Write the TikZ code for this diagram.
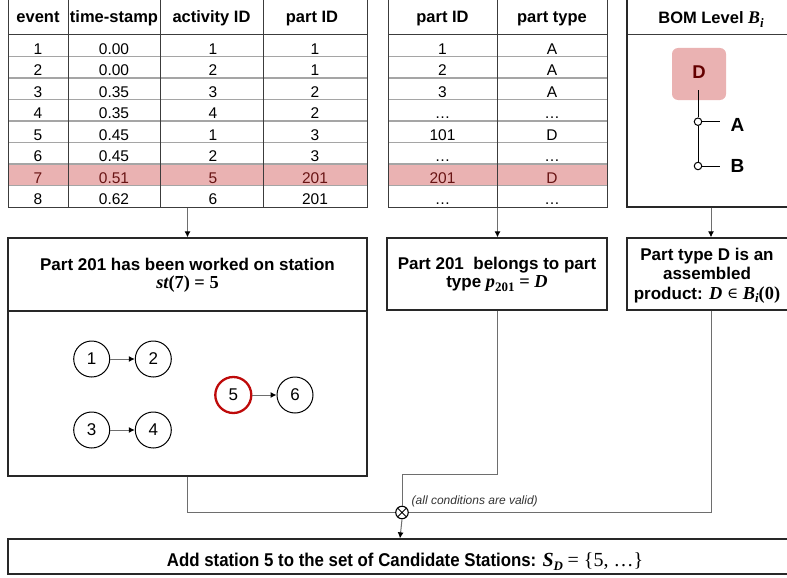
\documentclass[tikz,border=0pt]{standalone}
\usepackage[no-math]{fontspec}
\setmainfont{Liberation Sans}
\newfontfamily\narrowsans[FakeStretch=0.91]{Liberation Sans}
\newfontfamily\mser[Scale=1.08]{Liberation Serif}
\newfontfamily\msym{DejaVu Serif}
\usetikzlibrary{arrows.meta}

\newcommand\setfs[1]{\fontsize{#1}{#1}\selectfont}
% formula pieces set in a bold serif
\newcommand\mvar[1]{{\mser\bfseries\itshape #1}}
\newcommand\mup[1]{{\mser\bfseries #1}}
\newcommand\mreg[1]{{\mser\mdseries #1}}
\newcommand\msub[1]{\raisebox{-0.22em}{\fontsize{12}{12}\selectfont #1}}
\newcommand\mel{{\msym\mdseries\fontsize{15}{15}\selectfont\raisebox{0.05em}{∈}}}

\definecolor{hlfill}{RGB}{234,178,178}
\definecolor{hltext}{RGB}{105,20,20}
\definecolor{dred}{RGB}{100,0,0}
\definecolor{nodered}{RGB}{190,10,10}
\definecolor{gridc}{RGB}{60,60,60}
\definecolor{rowc}{RGB}{165,165,165}
\definecolor{boxc}{RGB}{40,40,40}
\definecolor{connc}{RGB}{110,110,110}

\begin{document}
\begin{tikzpicture}[x=1pt,y=-1pt,
  hdr/.style={font=\setfs{16.5}\bfseries, inner sep=0pt, anchor=base},
  cell/.style={font=\setfs{15.5}, inner sep=0pt, anchor=base},
  frame/.style={draw=gridc, line width=1pt, inner sep=0pt},
  gridline/.style={draw=gridc, line width=1pt},
  rowline/.style={draw=rowc, line width=1.2pt},
  box/.style={draw=boxc, line width=1.3pt, inner sep=0pt},
  btext/.style={font=\fontsize{17}{18}\selectfont\bfseries, align=center, inner sep=0pt},
  conn/.style={draw=connc, line width=1pt},
  tip/.style={-{Latex[length=6pt,width=6pt,color=black]}},
  gnode/.style={circle, draw=black, line width=1pt, minimum size=36pt, inner sep=0pt, font=\setfs{17}},
  garrow/.style={draw=connc, line width=1pt, -{Latex[length=6pt,width=6pt,color=black]}},
  joint/.style={circle, draw=black, line width=1pt, fill=white, minimum size=7.5pt, inner sep=0pt},
]
\useasboundingbox (0,0) rectangle (787,578);

% ---------- highlighted rows ----------
\fill[hlfill] (8,164) rectangle (367,185.5);
\fill[hlfill] (388,164) rectangle (607,185.5);

% ---------- table grid lines ----------
\foreach \i in {1,...,7}{
  \draw[rowline] (8,{35+21.5*\i}) -- (367,{35+21.5*\i});
  \draw[rowline] (388,{35+21.5*\i}) -- (607,{35+21.5*\i});
}
\draw[gridline] (8,35) -- (367,35);
\draw[gridline] (388,35) -- (607,35);
\draw[gridline] (627,35) -- (795,35);
\foreach \x in {68,160,263}{\draw[gridline] (\x,-2) -- (\x,207);}
\draw[gridline] (497,-2) -- (497,207);

% ---------- table outlines ----------
\node[frame, minimum width=359pt, minimum height=209pt] (tab1) at (187.5,102.5) {};
\node[frame, minimum width=219pt, minimum height=209pt] (tab2) at (497.5,102.5) {};
\node[frame, line width=1.3pt, draw=boxc, minimum width=168pt, minimum height=209pt] (bom) at (711,102.5) {};

% ---------- table 1: event log ----------
\node[hdr] (h11) at (38,22.7) {event};
\node[hdr] (h12) at (114,22.7) {time-stamp};
\node[hdr] (h13) at (211.5,22.7) {activity ID};
\node[hdr] (h14) at (312,22.7) {part ID};
\foreach \ev/\ts/\ac/\pid [count=\r] in {1/0.00/1/1, 2/0.00/2/1, 3/0.35/3/2, 4/0.35/4/2,
    5/0.45/1/3, 6/0.45/2/3, 7/0.51/5/201, 8/0.62/6/201}{
  \ifnum\r=7 \def\tc{hltext}\else\def\tc{black}\fi
  \pgfmathsetmacro\yb{54.3+21.5*(\r-1)}
  \node[cell, text=\tc] (t1-\r-1) at (38,\yb) {\ev};
  \node[cell, text=\tc] (t1-\r-2) at (114,\yb) {\ts};
  \node[cell, text=\tc] (t1-\r-3) at (213,\yb) {\ac};
  \node[cell, text=\tc] (t1-\r-4) at (315,\yb) {\pid};
}

% ---------- table 2: part types ----------
\node[hdr] (h21) at (442.5,22.7) {part ID};
\node[hdr] (h22) at (552,22.7) {part type};
\foreach \pid/\pt [count=\r] in {1/A, 2/A, 3/A, \dots/\dots, 101/D, \dots/\dots, 201/D, \dots/\dots}{
  \ifnum\r=7 \def\tc{hltext}\else\def\tc{black}\fi
  \pgfmathsetmacro\yb{54.3+21.5*(\r-1)}
  \node[cell, text=\tc] (t2-\r-1) at (442.5,\yb) {\pid};
  \node[cell, text=\tc] (t2-\r-2) at (552,\yb) {\pt};
}

% ---------- BOM level ----------
\node[hdr] (bomh) at (711,23.5) {BOM Level \mvar{B}\msub{\mvar{i}}};
\node[fill=hlfill, rounded corners=6pt, minimum width=54pt, minimum height=52pt, inner sep=0pt] (dbox) at (699,74) {};
\node[font=\setfs{18.5}\bfseries, text=dred, inner sep=0pt, anchor=base] (dlbl) at (699,78.3) {D};
\coordinate (dstem) at (698,90);
\node[joint] (ca) at (698,121.7) {};
\node[joint] (cb) at (698,166) {};
\draw[line width=1pt] (dstem) -- (ca.north) (ca.south) -- (cb.north);
\coordinate (aend) at (720,121.7);
\coordinate (bend) at (720,166);
\draw[line width=1pt] (ca.east) -- (aend) (cb.east) -- (bend);
\node[font=\setfs{19}\bfseries, inner sep=0pt, anchor=base] (la) at (737.5,131) {A};
\node[font=\setfs{19}\bfseries, inner sep=0pt, anchor=base] (lb) at (737.5,172) {B};

% ---------- condition boxes ----------
\node[box, minimum width=359pt, minimum height=238pt] (box1) at (187.5,357) {};
\draw[box] (8,311) -- (367,311);
\node[btext] (box1t) at (187.5,275) {Part 201 has been worked on station\\\mvar{st}\mup{(7) = 5}};

\node[box, minimum width=220pt, minimum height=72pt] (box2) at (497,274) {};
\node[btext] (box2t) at (497,274.5) {Part 201\ \ belongs to part\\type \mvar{p}\msub{\mup{201}} \mup{=} \mvar{D}};

\node[box, minimum width=168pt, minimum height=72pt] (box3) at (711,274) {};
\node[btext, font=\fontsize{17}{19.5}\selectfont\bfseries] (box3t) at (707,275.5) {Part type D is an\\assembled\\product: \mvar{D} \mel\ \mvar{B}\msub{\mvar{i}}\mup{(0)}};

% ---------- stations graph ----------
\node[gnode] (n1) at (91.7,359) {1};
\node[gnode] (n2) at (153.3,359) {2};
\node[gnode] (n3) at (91.7,430) {3};
\node[gnode] (n4) at (153.3,430) {4};
\node[gnode, draw=nodered, line width=2.3pt] (n5) at (233.3,395) {5};
\node[gnode] (n6) at (295,395) {6};
\draw[garrow] (n1) -- (n2);
\draw[garrow] (n3) -- (n4);
\draw[garrow] (n5) -- (n6);

% ---------- flow arrows ----------
\draw[conn, tip] (tab1.south) -- (box1.north);
\draw[conn, tip] (tab2.south) -- (tab2.south |- box2.north);
\draw[conn, tip] (bom.south) -- (box3.north);

% ---------- conjunction ----------
\node[circle, draw=black, line width=1.1pt, minimum size=12.5pt, inner sep=0pt,
  path picture={\draw[line width=1pt] (path picture bounding box.north west) -- (path picture bounding box.south east)
    (path picture bounding box.north east) -- (path picture bounding box.south west);}] (and) at (402,512.5) {};
\draw[conn] (box1.south) |- (and.west);
\draw[conn] (box2.south) -- ++(0,164) -| (and.north);
\draw[conn] (box3.south) |- (and.east);
\node[font=\setfs{12}\itshape, text=black!80, inner sep=0pt, anchor=base west] (cond) at (411.5,504) {(all conditions are valid)};

% ---------- result ----------
\node[box, minimum width=784pt, minimum height=35pt] (res) at (400,556.5) {};
\draw[conn, tip] (and.south) -- (res.north);
\node[font=\narrowsans\setfs{18.5}\bfseries, inner sep=0pt, anchor=base west] (rest) at (166.7,566) {Add station 5 to the set of Candidate Stations: \mvar{S}\msub{\mvar{D}} \mreg{= \{5, …\}}};
\end{tikzpicture}
\end{document}
